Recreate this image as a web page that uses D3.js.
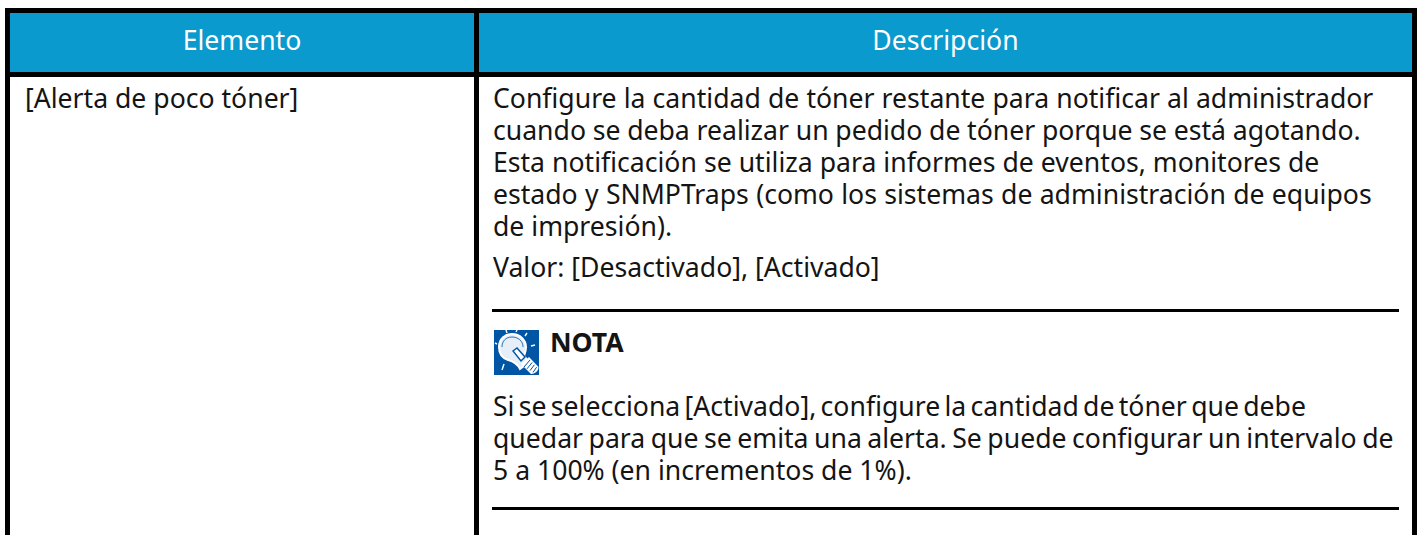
<!DOCTYPE html>
<html>
<head>
<meta charset="utf-8">
<script src="https://cdnjs.cloudflare.com/ajax/libs/d3/7.8.5/d3.min.js"></script>
<style>
html, body { margin: 0; padding: 0; background: #fff; }
text { font-family: "Noto Sans", sans-serif; font-size: 26.6px; fill: #141414; }
</style>
</head>
<body>
<div id="chart"></div>
<script>
var headers = ["Elemento", "Descripción"];
var itemLabels = ["[Alerta de poco tóner]"];
var descLines = [
    "Configure la cantidad de tóner restante para notificar al administrador",
    "cuando se deba realizar un pedido de tóner porque se está agotando.",
    "Esta notificación se utiliza para informes de eventos, monitores de",
    "estado y SNMPTraps (como los sistemas de administración de equipos",
    "de impresión)."
];
var valueLines = ["Valor: [Desactivado], [Activado]"];
var noteTitle = ["NOTA"];
var noteLines = [
    "Si se selecciona [Activado], configure la cantidad de tóner que debe",
    "quedar para que se emita una alerta. Se puede configurar un intervalo de",
    "5 a 100% (en incrementos de 1%)."
];

var width = 1419, height = 535;
var svg = d3.select("#chart").append("svg")
    .attr("width", width)
    .attr("height", height)
    .style("display", "block");

// table frame
svg.append("rect").attr("x", 5).attr("y", 8).attr("width", 1412).attr("height", 69).attr("fill", "#000");
svg.append("rect").attr("x", 10).attr("y", 13).attr("width", 464).attr("height", 59).attr("fill", "#0a9acd");
svg.append("rect").attr("x", 479).attr("y", 13).attr("width", 933).attr("height", 59).attr("fill", "#0a9acd");
svg.append("rect").attr("x", 5).attr("y", 77).attr("width", 5).attr("height", 458).attr("fill", "#000");
svg.append("rect").attr("x", 474).attr("y", 77).attr("width", 5).attr("height", 458).attr("fill", "#000");
svg.append("rect").attr("x", 1412).attr("y", 77).attr("width", 5).attr("height", 458).attr("fill", "#000");

// header text
svg.selectAll(".head").data(headers).enter().append("text")
    .attr("class", "head")
    .attr("x", function(d, i) { return i === 0 ? 242 : 945.5; })
    .attr("y", 49.5)
    .attr("text-anchor", "middle")
    .style("fill", "#fff")
    .text(function(d) { return d; });

// line position scale
var lineY = d3.scaleLinear().domain([0, 1]).range([0, 32]);
function drawLines(lines, x, y0, wordSpacing) {
    svg.append("g").selectAll("text").data(lines).enter().append("text")
        .attr("x", x)
        .attr("y", function(d, i) { return y0 + lineY(i); })
        .style("word-spacing", function(d, i) { return (wordSpacing ? wordSpacing[i] : 0) + "px"; })
        .text(function(d) { return d; });
}
drawLines(itemLabels, 25, 108);
drawLines(descLines, 493, 107.5, [0.2, -0.2, 0.1, 0.4, 0]);
drawLines(valueLines, 493, 277);
drawLines(noteLines, 493, 416, [-2.6, -1.4, 0]);

svg.append("text").attr("x", 550).attr("y", 352)
    .style("font-weight", "700")
    .text(noteTitle[0]);

// rules around the note
svg.selectAll(".rule").data([309, 507]).enter().append("rect")
    .attr("class", "rule")
    .attr("x", 492).attr("y", function(d) { return d; })
    .attr("width", 907).attr("height", 3).attr("fill", "#000");

// note icon
var icon = svg.append("g").attr("transform", "translate(494,330)");
icon.append("rect").attr("width", 45).attr("height", 45).attr("fill", "#0055a5");
var bulb = "M5 17 C5 9 11 4 18 4 C26 4 32 10 32 17 C32 21 31 23 30 26 L35 32 L26 39 C23 33 18 31 14 30 C8 28 5 23 5 17 Z";
icon.append("path").attr("d", bulb).attr("fill", "#e6eef7").attr("stroke", "#fff").attr("stroke-width", 2);
icon.append("path")
    .attr("d", "M8 17 C8 11 12 7 18 7 C24 7 29 11 29 17")
    .attr("fill", "none").attr("stroke", "#0055a5").attr("stroke-width", 0.8);
icon.append("path")
    .attr("d", "M19 21 L23 18 L31 27 L27 31 Z")
    .attr("fill", "#fff").attr("stroke", "#0055a5").attr("stroke-width", 1.5);
icon.append("path")
    .attr("d", "M27 34 L35 27 L44.5 37 C44.5 41 41 44 37 44 Z")
    .attr("fill", "#fff");
icon.selectAll(".thread").data([0, 1, 2, 3]).enter().append("line")
    .attr("class", "thread")
    .attr("x1", function(d) { return 30 + d * 3; })
    .attr("y1", function(d) { return 37 + d * 1.8; })
    .attr("x2", function(d) { return 36 + d * 2.2; })
    .attr("y2", function(d) { return 30 + d * 2.4; })
    .attr("stroke", "#0055a5").attr("stroke-width", 1);
var rays = [[1, 13, 3, 14], [12, 0, 13, 3], [23, 0, 22, 2], [33, 3, 31, 6], [41, 15, 37, 16], [10, 34, 8, 40]];
icon.selectAll(".ray").data(rays).enter().append("line")
    .attr("class", "ray")
    .attr("x1", function(d) { return d[0]; })
    .attr("y1", function(d) { return d[1]; })
    .attr("x2", function(d) { return d[2]; })
    .attr("y2", function(d) { return d[3]; })
    .attr("stroke", "#fff").attr("stroke-width", 1.4);
</script>
</body>
</html>
